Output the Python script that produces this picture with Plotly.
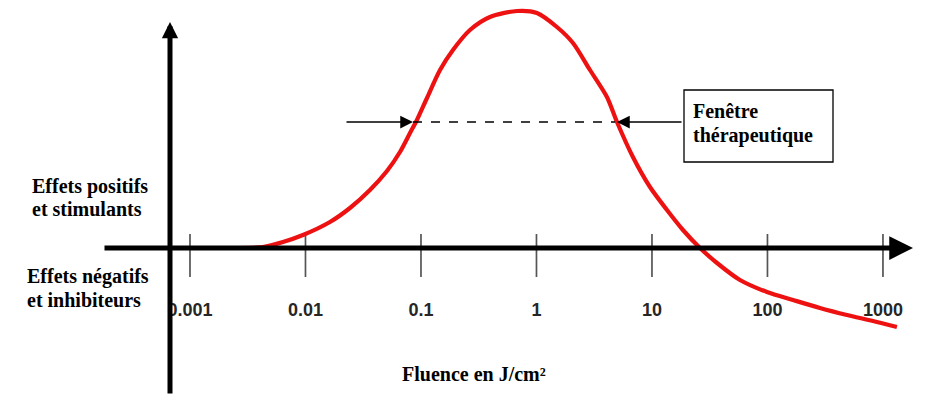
import plotly.graph_objects as go

# ---- data ----
fluence = [0.00209, 0.00428, 0.00638, 0.00951, 0.01629, 0.02427, 0.03614, 0.05076,
           0.06577, 0.08035, 0.09226, 0.1127, 0.1462, 0.1892, 0.2655, 0.3954, 0.6776,
           1.009, 1.503, 2.070, 2.904, 4.074, 4.977, 6.84, 9.61, 13.49, 18.55,
           26.06, 36.57, 57.8, 99.0, 166.5, 284.8, 487.5, 819.0, 1321]
effet = [0, 1, 6, 13, 26, 40, 58, 77,
         96, 115, 128, 150, 178, 198, 218, 231, 237,
         235, 221, 205, 178, 151, 126, 91, 61, 38, 18,
         0, -15, -32, -44, -52, -60, -67, -73, -79]
tick_vals = [0.001, 0.01, 0.1, 1, 10, 100, 1000]
tick_text = ["0.001", "0.01", "0.1", "1", "10", "100", "1000"]

W, H = 925, 399
def px(x):
    return x / W
def py(y):
    return (H - y) / H

fig = go.Figure()

# tick marks crossing the horizontal axis
tx, ty = [], []
for t in tick_vals:
    tx += [t, t, None]
    ty += [14, -29, None]
fig.add_trace(go.Scatter(x=tx, y=ty, mode="lines",
                         line=dict(color="#555555", width=1.7),
                         hoverinfo="skip"))

# curve
fig.add_trace(go.Scatter(x=fluence, y=effet, mode="lines",
                         line=dict(color="#ee1111", width=4.2, shape="spline", smoothing=0.8),
                         hoverinfo="skip"))

serif = dict(family="Liberation Serif", size=20, color="black", weight="bold")

def label(x, y, text):
    return dict(x=px(x), y=py(y), xref="paper", yref="paper", xanchor="left",
                yanchor="middle", align="left", showarrow=False, text=text, font=serif)

annotations = [
    # horizontal axis with arrow
    dict(x=px(913), y=py(248), xref="paper", yref="paper", ax=-810, ay=0,
         showarrow=True, arrowhead=2, arrowsize=0.95, arrowwidth=5,
         arrowcolor="black", text=""),
    # vertical axis with arrow
    dict(x=px(170), y=py(22), xref="paper", yref="paper", ax=0, ay=373,
         showarrow=True, arrowhead=2, arrowsize=0.65, arrowwidth=5,
         arrowcolor="black", text=""),
    # small arrows of therapeutic window
    dict(x=px(413), y=py(122), xref="paper", yref="paper", ax=-68, ay=0,
         showarrow=True, arrowhead=2, arrowsize=1.7, arrowwidth=1.5,
         arrowcolor="black", text=""),
    dict(x=px(617), y=py(122), xref="paper", yref="paper", ax=66, ay=0,
         showarrow=True, arrowhead=2, arrowsize=1.7, arrowwidth=1.5,
         arrowcolor="black", text=""),
    # texts
    label(30, 186, "Effets positifs"),
    label(30, 209, "et stimulants"),
    label(25, 276, "Effets négatifs"),
    label(25, 300, "et inhibiteurs"),
    label(691, 111, "Fenêtre"),
    label(691, 135, "thérapeutique"),
    dict(x=px(474), y=py(374), xref="paper", yref="paper", xanchor="center",
         yanchor="middle", showarrow=False, text="Fluence en J/cm²", font=serif),
]

shapes = [
    dict(type="line", xref="paper", yref="paper", x0=px(413), x1=px(615),
         y0=py(122), y1=py(122), line=dict(color="black", width=1.5, dash="dash")),
    dict(type="rect", xref="paper", yref="paper", x0=px(684), x1=px(833),
         y0=py(90), y1=py(162), line=dict(color="black", width=1.3),
         fillcolor="rgba(0,0,0,0)"),
]

fig.update_layout(
    width=W, height=H, margin=dict(l=0, r=0, t=0, b=0),
    plot_bgcolor="white", paper_bgcolor="white", showlegend=False,
    xaxis=dict(type="log", range=[-4.645, 3.364], anchor="free", position=py(297),
               showline=False, showgrid=False, zeroline=False, ticks="",
               tickvals=tick_vals, ticktext=tick_text,
               tickfont=dict(family="Liberation Sans", size=18,
                             color="#262626", weight="bold")),
    yaxis=dict(range=[-151, 248], visible=False, showgrid=False, zeroline=False),
    annotations=annotations, shapes=shapes,
)

fig.write_html("out.html", config={"displayModeBar": False},
               post_script="document.body.style.margin='0';")
